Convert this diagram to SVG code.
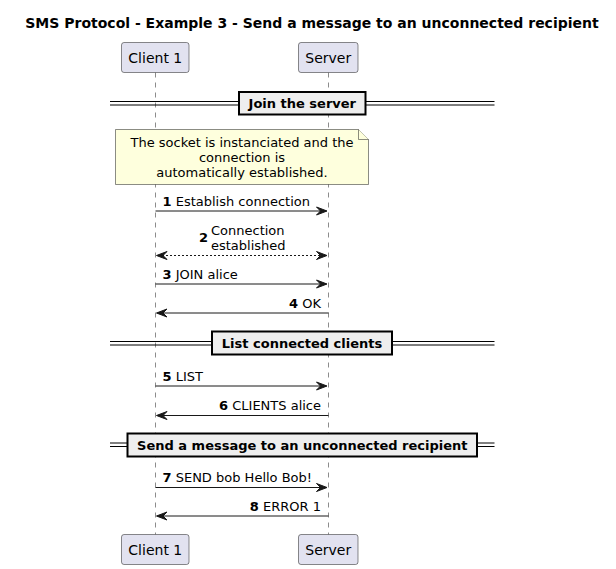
<svg xmlns="http://www.w3.org/2000/svg" width="616" height="569" viewBox="0 0 616 569">
<style>
text{font-family:"DejaVu Sans","Liberation Sans",sans-serif;fill:#000}
.title{font-size:14px;font-weight:bold}
.part{fill:#E2E2F0;stroke:#181818;stroke-width:0.5}
.ptxt{font-size:14px}
.life{stroke:#181818;stroke-width:0.5;stroke-dasharray:5,5;fill:none}
.msg{stroke:#181818;stroke-width:1;fill:none}
.dash{stroke-dasharray:2,2}
.head{fill:#181818;stroke:#181818;stroke-width:1}
.mtxt{font-size:13px}
.num{font-weight:bold}
.divline{stroke:#000;stroke-width:1}
.divbox{fill:#EEEEEE;stroke:#000;stroke-width:2}
.divtxt{font-size:13px;font-weight:bold}
.note{fill:#FEFFDD;stroke:#181818;stroke-width:0.5}
</style>
<text class="title" x="312" y="28" text-anchor="middle">SMS Protocol - Example 3 - Send a message to an unconnected recipient</text>

<g id="lifelines">
<line class="life" x1="155.5" y1="72.5" x2="155.5" y2="534.5"/>
<line class="life" x1="328.5" y1="72.5" x2="328.5" y2="534.5"/>
</g>

<g id="client1">
<rect class="part" x="121.5" y="42.5" width="67.5" height="30" rx="2.5"/>
<text class="ptxt" x="155.3" y="62.5" text-anchor="middle">Client 1</text>
<rect class="part" x="121.5" y="534.5" width="67.5" height="30" rx="2.5"/>
<text class="ptxt" x="155.3" y="555" text-anchor="middle">Client 1</text>
</g>

<g id="server">
<rect class="part" x="298.5" y="42.5" width="59.5" height="30" rx="2.5"/>
<text class="ptxt" x="328.3" y="62.5" text-anchor="middle">Server</text>
<rect class="part" x="298.5" y="534.5" width="59.5" height="30" rx="2.5"/>
<text class="ptxt" x="328.3" y="555" text-anchor="middle">Server</text>
</g>

<g id="divider-join">
<line class="divline" x1="110" y1="101.5" x2="494.5" y2="101.5"/>
<line class="divline" x1="110" y1="105" x2="494.5" y2="105"/>
<rect class="divbox" x="239" y="92" width="126.5" height="22.5"/>
<text class="divtxt" x="302.3" y="108" text-anchor="middle">Join the server</text>
</g>

<g id="note">
<path class="note" d="M115.5,129.5 L358.5,129.5 L368.5,139.5 L368.5,184.5 L115.5,184.5 Z"/>
<path class="note" d="M358.5,129.5 L358.5,139.5 L368.5,139.5" fill="none"/>
<text class="mtxt" x="242" y="146.5" text-anchor="middle">The socket is instanciated and the</text>
<text class="mtxt" x="242" y="161.5" text-anchor="middle">connection is</text>
<text class="mtxt" x="242" y="176.5" text-anchor="middle">automatically established.</text>
</g>

<g id="divider-list">
<line class="divline" x1="110" y1="341.5" x2="494.5" y2="341.5"/>
<line class="divline" x1="110" y1="345" x2="494.5" y2="345"/>
<rect class="divbox" x="212" y="331.5" width="180" height="23"/>
<text class="divtxt" x="302" y="348" text-anchor="middle">List connected clients</text>
</g>

<g id="divider-send">
<line class="divline" x1="110" y1="443" x2="494.5" y2="443"/>
<line class="divline" x1="110" y1="446.5" x2="494.5" y2="446.5"/>
<rect class="divbox" x="127.5" y="433.5" width="349.5" height="23"/>
<text class="divtxt" x="302.3" y="450" text-anchor="middle">Send a message to an unconnected recipient</text>
</g>

<g id="connectors">
<line class="msg" x1="155.5" y1="211" x2="326" y2="211"/>
<polygon class="head" points="316.5,207 327,211 316.5,215 320.5,211"/>
<text class="mtxt" x="162.5" y="205.5"><tspan class="num">1</tspan> Establish connection</text>

<line class="msg dash" x1="158" y1="255.5" x2="326" y2="255.5"/>
<polygon class="head" points="316.5,251.5 327,255.5 316.5,259.5 320.5,255.5"/>
<polygon class="head" points="167,251.5 156.5,255.5 167,259.5 163,255.5"/>
<text class="mtxt num" x="199" y="241.5">2</text>
<text class="mtxt" x="211" y="234.5">Connection</text>
<text class="mtxt" x="211" y="249.5">established</text>

<line class="msg" x1="155.5" y1="284" x2="326" y2="284"/>
<polygon class="head" points="316.5,280 327,284 316.5,288 320.5,284"/>
<text class="mtxt" x="162.5" y="278.5"><tspan class="num">3</tspan> JOIN alice</text>

<line class="msg" x1="158" y1="313" x2="328.5" y2="313"/>
<polygon class="head" points="167,309 156.5,313 167,317 163,313"/>
<text class="mtxt" x="321" y="307.5" text-anchor="end"><tspan class="num">4</tspan> OK</text>

<line class="msg" x1="155.5" y1="386" x2="326" y2="386"/>
<polygon class="head" points="316.5,382 327,386 316.5,390 320.5,386"/>
<text class="mtxt" x="162.5" y="380.5"><tspan class="num">5</tspan> LIST</text>

<line class="msg" x1="158" y1="415.5" x2="328.5" y2="415.5"/>
<polygon class="head" points="167,411.5 156.5,415.5 167,419.5 163,415.5"/>
<text class="mtxt" x="321" y="410" text-anchor="end"><tspan class="num">6</tspan> CLIENTS alice</text>

<line class="msg" x1="155.5" y1="487.5" x2="326" y2="487.5"/>
<polygon class="head" points="316.5,483.5 327,487.5 316.5,491.5 320.5,487.5"/>
<text class="mtxt" x="162.5" y="482"><tspan class="num">7</tspan> SEND bob Hello Bob!</text>

<line class="msg" x1="158" y1="516" x2="328.5" y2="516"/>
<polygon class="head" points="167,512 156.5,516 167,520 163,516"/>
<text class="mtxt" x="321" y="510.5" text-anchor="end"><tspan class="num">8</tspan> ERROR 1</text>
</g>
</svg>
